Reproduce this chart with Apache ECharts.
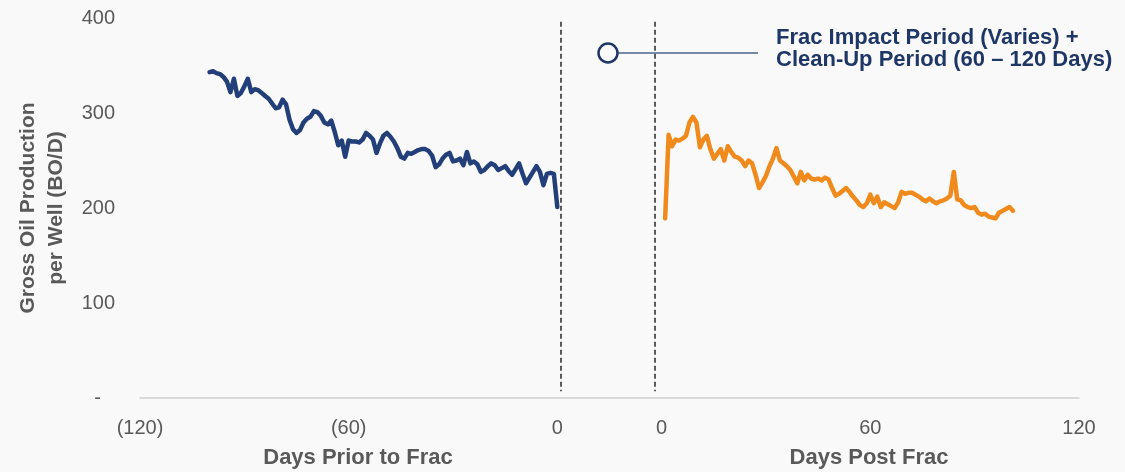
<!DOCTYPE html>
<html>
<head>
<meta charset="utf-8">
<script src="https://cdn.jsdelivr.net/npm/echarts@6/dist/echarts.min.js"></script>
<style>
  html, body { margin: 0; padding: 0; background: #f9f9f9; }
  #chart { width: 1125px; height: 472px; }
</style>
</head>
<body>
<div id="chart"></div>
<script>
// Gross oil production per well (BO/D), one value per day.
// Prior to frac: days -100 .. 0
const priorStartDay = -100;
const priorValues = [
  343, 344, 342, 341, 338, 333, 322, 336, 318, 321,
  328, 336, 322, 325, 324, 321, 318, 315, 310, 305,
  306, 314, 309, 293, 283, 279, 282, 290, 294, 296,
  302, 301, 297, 290, 288, 292, 280, 266, 271, 254,
  271, 270, 270, 269, 272, 279, 276, 272, 258, 268,
  276, 279, 275, 270, 263, 254, 252, 258, 257, 259,
  261, 262, 262, 260, 255, 243, 246, 252, 256, 258,
  249, 250, 252, 245, 259, 247, 249, 246, 238, 240,
  244, 247, 245, 240, 242, 244, 239, 235, 241, 247,
  236, 226, 232, 238, 244, 238, 224, 236, 237, 236,
  201
];
// Post frac: days 1 .. 101
const postStartDay = 1;
const postValues = [
  189, 277, 265, 272, 271, 273, 276, 290, 296, 290,
  264, 272, 276, 262, 252, 257, 262, 250, 265, 259,
  254, 253, 250, 244, 250, 247, 235, 221, 227, 234,
  244, 252, 263, 250, 247, 244, 240, 233, 226, 238,
  229, 235, 231, 230, 231, 229, 232, 230, 221, 213,
  215, 218, 221, 217, 212, 208, 203, 201, 205, 214,
  205, 212, 201, 206, 204, 202, 200, 206, 217, 215,
  216, 216, 214, 212, 209, 207, 210, 207, 205, 207,
  208, 210, 213, 238, 209, 208, 203, 201, 200, 201,
  195, 193, 194, 191, 190, 189, 195, 197, 199, 201,
  197
];

// Axis ticks for both panels
const priorTicks = [-120, -60, 0];
const priorTickLabels = ['(120)', '(60)', '0'];
const postTicks = [0, 60, 120];
const postTickLabels = ['0', '60', '120'];
const yTicks = [0, 100, 200, 300, 400];
const yTickLabels = ['-', '100', '200', '300', '400'];

// Both panels share one x axis; the post-frac panel is shifted right by this many days
const postOffset = 30;
// Frac impact window boundaries (prior-day and post-day)
const fracBoundPrior = 1;
const fracBoundPost = -2;

const FONT = "'Liberation Sans', Arial, Helvetica, sans-serif";
const GREY = '#595959';
const NAVY = '#1f3766';

const priorData = priorValues.map((v, i) => [priorStartDay + i, v]);
const postData = postValues.map((v, i) => [postStartDay + i + postOffset, v]);

const xLabelMap = new Map();
priorTicks.forEach((t, i) => xLabelMap.set(t, priorTickLabels[i]));
postTicks.forEach((t, i) => xLabelMap.set(t + postOffset, postTickLabels[i]));
const yLabelMap = new Map();
yTicks.forEach((t, i) => yLabelMap.set(t, yTickLabels[i]));

const chart = echarts.init(document.getElementById('chart'), null, { renderer: 'canvas' });

chart.setOption({
  backgroundColor: '#f9f9f9',
  animation: false,
  grid: { left: 140, right: 46, top: 18, bottom: 74 },
  xAxis: {
    type: 'value',
    min: -120,
    max: 120 + postOffset,
    axisLine: { show: true, lineStyle: { color: '#cfcfcf', width: 1.5 } },
    axisTick: { show: false },
    splitLine: { show: false },
    axisLabel: {
      customValues: [...priorTicks, ...postTicks.map(t => t + postOffset)],
      formatter: v => xLabelMap.get(v) ?? '',
      color: GREY,
      fontFamily: FONT,
      fontSize: 20,
      margin: 20
    }
  },
  yAxis: {
    type: 'value',
    min: 0,
    max: 400,
    interval: 100,
    axisLine: { show: false },
    axisTick: { show: false },
    splitLine: { show: false },
    axisLabel: {
      formatter: v => (v === 0 ? '{z|' + yLabelMap.get(v) + '}' : yLabelMap.get(v)),
      color: GREY,
      fontFamily: FONT,
      fontSize: 20,
      margin: 25,
      rich: {
        z: { color: GREY, fontFamily: FONT, fontSize: 20, padding: [0, 14, 0, 0] }
      }
    },
    name: 'Gross Oil Production\nper Well (BO/D)',
    nameLocation: 'middle',
    nameRotate: 90,
    nameGap: 70,
    nameTextStyle: {
      color: GREY,
      fontFamily: FONT,
      fontSize: 21,
      fontWeight: 'bold',
      lineHeight: 28
    }
  },
  series: [
    {
      name: 'Days Prior to Frac',
      type: 'line',
      data: priorData,
      symbol: 'none',
      lineStyle: { color: '#233f7a', width: 4.5, cap: 'round', join: 'round' },
      markLine: {
        silent: true,
        symbol: 'none',
        label: { show: false },
        lineStyle: { color: '#5a5a5a', width: 2, type: [5, 3] },
        data: [
          [{ coord: [fracBoundPrior, 396] }, { coord: [fracBoundPrior, 7] }],
          [{ coord: [fracBoundPost + postOffset, 396] }, { coord: [fracBoundPost + postOffset, 7] }]
        ]
      }
    },
    {
      name: 'Days Post Frac',
      type: 'line',
      data: postData,
      symbol: 'none',
      lineStyle: { color: '#f08a1d', width: 4.5, cap: 'round', join: 'round' }
    }
  ],
  graphic: [
    {
      type: 'text',
      x: 358, y: 458,
      style: {
        text: 'Days Prior to Frac',
        font: 'bold 22px ' + FONT,
        fill: GREY,
        align: 'center',
        verticalAlign: 'middle'
      }
    },
    {
      type: 'text',
      x: 869, y: 458,
      style: {
        text: 'Days Post Frac',
        font: 'bold 22px ' + FONT,
        fill: GREY,
        align: 'center',
        verticalAlign: 'middle'
      }
    },
    {
      type: 'line',
      shape: { x1: 617, y1: 53, x2: 758, y2: 53 },
      style: { stroke: '#46648c', lineWidth: 1.6 },
      z: 10
    },
    {
      type: 'circle',
      shape: { cx: 608, cy: 53, r: 9.5 },
      style: { fill: '#f9f9f9', stroke: NAVY, lineWidth: 2.5 },
      z: 11
    },
    {
      type: 'text',
      x: 776, y: 27,
      style: {
        text: 'Frac Impact Period (Varies) +\nClean-Up Period (60 \u2013 120 Days)',
        font: 'bold 22px ' + FONT,
        fill: NAVY,
        lineHeight: 22,
        align: 'left',
        verticalAlign: 'top'
      },
      z: 11
    }
  ]
});
</script>
</body>
</html>
